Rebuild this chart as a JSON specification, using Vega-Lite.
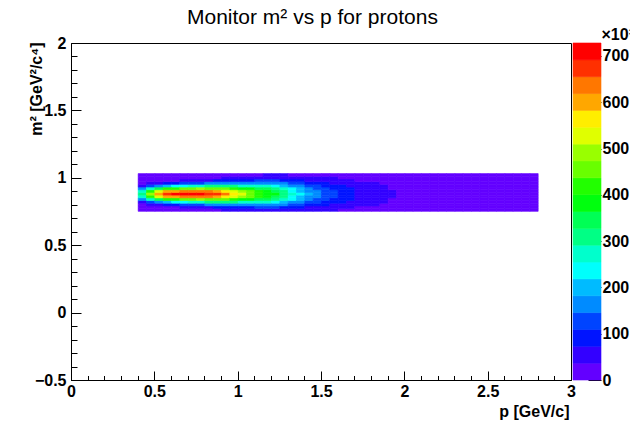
{
"$schema":"https://vega.github.io/schema/vega-lite/v6.json",
"background":"white",
"padding":{"left":27,"top":7,"right":0,"bottom":0},
"bounds":"flush",
"spacing":2,
"title":{"text":"Monitor m² vs p for protons","font":"Liberation Sans","fontSize":21,"fontWeight":"normal","color":"black","anchor":"start","frame":"group","dx":116,"offset":-2},
"config":{"font":"Liberation Sans","view":{"stroke":null},
"axis":{"grid":false,"domainColor":"black","tickColor":"black","labelColor":"black","titleColor":"black","labelFont":"Liberation Sans","labelFontSize":16,"labelFontWeight":"bold","titleFont":"Liberation Sans","titleFontSize":16,"titleFontWeight":"bold","tickWidth":1,"domainWidth":1,"labelOverlap":false}},
"hconcat":[
{"width":500,"height":337,
"view":{"stroke":"black","strokeWidth":1},
"data":{"values":[
{"p":0.425,"m":0.765,"n":5},{"p":0.425,"m":0.785,"n":8},{"p":0.425,"m":0.805,"n":23},{"p":0.425,"m":0.825,"n":67},{"p":0.425,"m":0.845,"n":154},{"p":0.425,"m":0.865,"n":256},{"p":0.425,"m":0.885,"n":304},{"p":0.425,"m":0.905,"n":256},{"p":0.425,"m":0.925,"n":154},{"p":0.425,"m":0.945,"n":67},{"p":0.425,"m":0.965,"n":23},{"p":0.425,"m":0.985,"n":8},{"p":0.425,"m":1.005,"n":5},{"p":0.425,"m":1.025,"n":4},
{"p":0.475,"m":0.765,"n":6},{"p":0.475,"m":0.785,"n":15},{"p":0.475,"m":0.805,"n":46},{"p":0.475,"m":0.825,"n":129},{"p":0.475,"m":0.845,"n":274},{"p":0.475,"m":0.865,"n":433},{"p":0.475,"m":0.885,"n":504},{"p":0.475,"m":0.905,"n":433},{"p":0.475,"m":0.925,"n":274},{"p":0.475,"m":0.945,"n":129},{"p":0.475,"m":0.965,"n":46},{"p":0.475,"m":0.985,"n":15},{"p":0.475,"m":1.005,"n":6},{"p":0.475,"m":1.025,"n":4},
{"p":0.525,"m":0.765,"n":8},{"p":0.525,"m":0.785,"n":23},{"p":0.525,"m":0.805,"n":70},{"p":0.525,"m":0.825,"n":179},{"p":0.525,"m":0.845,"n":355},{"p":0.525,"m":0.865,"n":535},{"p":0.525,"m":0.885,"n":614},{"p":0.525,"m":0.905,"n":535},{"p":0.525,"m":0.925,"n":355},{"p":0.525,"m":0.945,"n":179},{"p":0.525,"m":0.965,"n":70},{"p":0.525,"m":0.985,"n":23},{"p":0.525,"m":1.005,"n":8},{"p":0.525,"m":1.025,"n":5},
{"p":0.575,"m":0.765,"n":10},{"p":0.575,"m":0.785,"n":29},{"p":0.575,"m":0.805,"n":86},{"p":0.575,"m":0.825,"n":211},{"p":0.575,"m":0.845,"n":403},{"p":0.575,"m":0.865,"n":596},{"p":0.575,"m":0.885,"n":679},{"p":0.575,"m":0.905,"n":596},{"p":0.575,"m":0.925,"n":403},{"p":0.575,"m":0.945,"n":211},{"p":0.575,"m":0.965,"n":86},{"p":0.575,"m":0.985,"n":29},{"p":0.575,"m":1.005,"n":10},{"p":0.575,"m":1.025,"n":5},
{"p":0.625,"m":0.765,"n":12},{"p":0.625,"m":0.785,"n":34},{"p":0.625,"m":0.805,"n":97},{"p":0.625,"m":0.825,"n":228},{"p":0.625,"m":0.845,"n":422},{"p":0.625,"m":0.865,"n":613},{"p":0.625,"m":0.885,"n":694},{"p":0.625,"m":0.905,"n":613},{"p":0.625,"m":0.925,"n":422},{"p":0.625,"m":0.945,"n":228},{"p":0.625,"m":0.965,"n":97},{"p":0.625,"m":0.985,"n":34},{"p":0.625,"m":1.005,"n":12},{"p":0.625,"m":1.025,"n":6},
{"p":0.675,"m":0.765,"n":14},{"p":0.675,"m":0.785,"n":41},{"p":0.675,"m":0.805,"n":111},{"p":0.675,"m":0.825,"n":250},{"p":0.675,"m":0.845,"n":450},{"p":0.675,"m":0.865,"n":641},{"p":0.675,"m":0.885,"n":722},{"p":0.675,"m":0.905,"n":641},{"p":0.675,"m":0.925,"n":450},{"p":0.675,"m":0.945,"n":250},{"p":0.675,"m":0.965,"n":111},{"p":0.675,"m":0.985,"n":41},{"p":0.675,"m":1.005,"n":14},{"p":0.675,"m":1.025,"n":6},
{"p":0.725,"m":0.765,"n":16},{"p":0.725,"m":0.785,"n":46},{"p":0.725,"m":0.805,"n":122},{"p":0.725,"m":0.825,"n":264},{"p":0.725,"m":0.845,"n":463},{"p":0.725,"m":0.865,"n":649},{"p":0.725,"m":0.885,"n":726},{"p":0.725,"m":0.905,"n":649},{"p":0.725,"m":0.925,"n":463},{"p":0.725,"m":0.945,"n":264},{"p":0.725,"m":0.965,"n":122},{"p":0.725,"m":0.985,"n":46},{"p":0.725,"m":1.005,"n":16},{"p":0.725,"m":1.025,"n":7},
{"p":0.775,"m":0.765,"n":21},{"p":0.775,"m":0.785,"n":58},{"p":0.775,"m":0.805,"n":140},{"p":0.775,"m":0.825,"n":285},{"p":0.775,"m":0.845,"n":475},{"p":0.775,"m":0.865,"n":646},{"p":0.775,"m":0.885,"n":716},{"p":0.775,"m":0.905,"n":646},{"p":0.775,"m":0.925,"n":475},{"p":0.775,"m":0.945,"n":285},{"p":0.775,"m":0.965,"n":140},{"p":0.775,"m":0.985,"n":58},{"p":0.775,"m":1.005,"n":21},{"p":0.775,"m":1.025,"n":9},
{"p":0.825,"m":0.765,"n":27},{"p":0.825,"m":0.785,"n":68},{"p":0.825,"m":0.805,"n":155},{"p":0.825,"m":0.825,"n":296},{"p":0.825,"m":0.845,"n":473},{"p":0.825,"m":0.865,"n":626},{"p":0.825,"m":0.885,"n":688},{"p":0.825,"m":0.905,"n":626},{"p":0.825,"m":0.925,"n":473},{"p":0.825,"m":0.945,"n":296},{"p":0.825,"m":0.965,"n":155},{"p":0.825,"m":0.985,"n":68},{"p":0.825,"m":1.005,"n":27},{"p":0.825,"m":1.025,"n":11},
{"p":0.875,"m":0.765,"n":33},{"p":0.875,"m":0.785,"n":79},{"p":0.875,"m":0.805,"n":169},{"p":0.875,"m":0.825,"n":306},{"p":0.875,"m":0.845,"n":470},{"p":0.875,"m":0.865,"n":609},{"p":0.875,"m":0.885,"n":664},{"p":0.875,"m":0.905,"n":609},{"p":0.875,"m":0.925,"n":470},{"p":0.875,"m":0.945,"n":306},{"p":0.875,"m":0.965,"n":169},{"p":0.875,"m":0.985,"n":79},{"p":0.875,"m":1.005,"n":33},{"p":0.875,"m":1.025,"n":13},
{"p":0.925,"m":0.765,"n":39},{"p":0.925,"m":0.785,"n":87},{"p":0.925,"m":0.805,"n":175},{"p":0.925,"m":0.825,"n":303},{"p":0.925,"m":0.845,"n":451},{"p":0.925,"m":0.865,"n":572},{"p":0.925,"m":0.885,"n":619},{"p":0.925,"m":0.905,"n":572},{"p":0.925,"m":0.925,"n":451},{"p":0.925,"m":0.945,"n":303},{"p":0.925,"m":0.965,"n":175},{"p":0.925,"m":0.985,"n":87},{"p":0.925,"m":1.005,"n":39},{"p":0.925,"m":1.025,"n":16},
{"p":0.975,"m":0.765,"n":43},{"p":0.975,"m":0.785,"n":92},{"p":0.975,"m":0.805,"n":175},{"p":0.975,"m":0.825,"n":292},{"p":0.975,"m":0.845,"n":421},{"p":0.975,"m":0.865,"n":524},{"p":0.975,"m":0.885,"n":564},{"p":0.975,"m":0.905,"n":524},{"p":0.975,"m":0.925,"n":421},{"p":0.975,"m":0.945,"n":292},{"p":0.975,"m":0.965,"n":175},{"p":0.975,"m":0.985,"n":92},{"p":0.975,"m":1.005,"n":43},{"p":0.975,"m":1.025,"n":19},
{"p":1.025,"m":0.765,"n":47},{"p":1.025,"m":0.785,"n":96},{"p":1.025,"m":0.805,"n":175},{"p":1.025,"m":0.825,"n":280},{"p":1.025,"m":0.845,"n":393},{"p":1.025,"m":0.865,"n":482},{"p":1.025,"m":0.885,"n":516},{"p":1.025,"m":0.905,"n":482},{"p":1.025,"m":0.925,"n":393},{"p":1.025,"m":0.945,"n":280},{"p":1.025,"m":0.965,"n":175},{"p":1.025,"m":0.985,"n":96},{"p":1.025,"m":1.005,"n":47},{"p":1.025,"m":1.025,"n":22},
{"p":1.075,"m":0.765,"n":55},{"p":1.075,"m":0.785,"n":104},{"p":1.075,"m":0.805,"n":179},{"p":1.075,"m":0.825,"n":273},{"p":1.075,"m":0.845,"n":370},{"p":1.075,"m":0.865,"n":444},{"p":1.075,"m":0.885,"n":472},{"p":1.075,"m":0.905,"n":444},{"p":1.075,"m":0.925,"n":370},{"p":1.075,"m":0.945,"n":273},{"p":1.075,"m":0.965,"n":179},{"p":1.075,"m":0.985,"n":104},{"p":1.075,"m":1.005,"n":55},{"p":1.075,"m":1.025,"n":27},
{"p":1.125,"m":0.765,"n":62},{"p":1.125,"m":0.785,"n":111},{"p":1.125,"m":0.805,"n":181},{"p":1.125,"m":0.825,"n":265},{"p":1.125,"m":0.845,"n":348},{"p":1.125,"m":0.865,"n":411},{"p":1.125,"m":0.885,"n":434},{"p":1.125,"m":0.905,"n":411},{"p":1.125,"m":0.925,"n":348},{"p":1.125,"m":0.945,"n":265},{"p":1.125,"m":0.965,"n":181},{"p":1.125,"m":0.985,"n":111},{"p":1.125,"m":1.005,"n":62},{"p":1.125,"m":1.025,"n":32},
{"p":1.175,"m":0.765,"n":69},{"p":1.175,"m":0.785,"n":116},{"p":1.175,"m":0.805,"n":181},{"p":1.175,"m":0.825,"n":256},{"p":1.175,"m":0.845,"n":328},{"p":1.175,"m":0.865,"n":381},{"p":1.175,"m":0.885,"n":400},{"p":1.175,"m":0.905,"n":381},{"p":1.175,"m":0.925,"n":328},{"p":1.175,"m":0.945,"n":256},{"p":1.175,"m":0.965,"n":181},{"p":1.175,"m":0.985,"n":116},{"p":1.175,"m":1.005,"n":69},{"p":1.175,"m":1.025,"n":38},
{"p":1.225,"m":0.765,"n":71},{"p":1.225,"m":0.785,"n":117},{"p":1.225,"m":0.805,"n":177},{"p":1.225,"m":0.825,"n":244},{"p":1.225,"m":0.845,"n":309},{"p":1.225,"m":0.865,"n":355},{"p":1.225,"m":0.885,"n":372},{"p":1.225,"m":0.905,"n":355},{"p":1.225,"m":0.925,"n":309},{"p":1.225,"m":0.945,"n":244},{"p":1.225,"m":0.965,"n":177},{"p":1.225,"m":0.985,"n":117},{"p":1.225,"m":1.005,"n":71},{"p":1.225,"m":1.025,"n":40},
{"p":1.275,"m":0.765,"n":65},{"p":1.275,"m":0.785,"n":105},{"p":1.275,"m":0.805,"n":157},{"p":1.275,"m":0.825,"n":214},{"p":1.275,"m":0.845,"n":269},{"p":1.275,"m":0.865,"n":308},{"p":1.275,"m":0.885,"n":322},{"p":1.275,"m":0.905,"n":308},{"p":1.275,"m":0.925,"n":269},{"p":1.275,"m":0.945,"n":214},{"p":1.275,"m":0.965,"n":157},{"p":1.275,"m":0.985,"n":105},{"p":1.275,"m":1.005,"n":65},{"p":1.275,"m":1.025,"n":38},
{"p":1.325,"m":0.765,"n":58},{"p":1.325,"m":0.785,"n":91},{"p":1.325,"m":0.805,"n":133},{"p":1.325,"m":0.825,"n":179},{"p":1.325,"m":0.845,"n":221},{"p":1.325,"m":0.865,"n":251},{"p":1.325,"m":0.885,"n":262},{"p":1.325,"m":0.905,"n":251},{"p":1.325,"m":0.925,"n":221},{"p":1.325,"m":0.945,"n":179},{"p":1.325,"m":0.965,"n":133},{"p":1.325,"m":0.985,"n":91},{"p":1.325,"m":1.005,"n":58},{"p":1.325,"m":1.025,"n":35},
{"p":1.375,"m":0.765,"n":53},{"p":1.375,"m":0.785,"n":81},{"p":1.375,"m":0.805,"n":116},{"p":1.375,"m":0.825,"n":153},{"p":1.375,"m":0.845,"n":187},{"p":1.375,"m":0.865,"n":210},{"p":1.375,"m":0.885,"n":219},{"p":1.375,"m":0.905,"n":210},{"p":1.375,"m":0.925,"n":187},{"p":1.375,"m":0.945,"n":153},{"p":1.375,"m":0.965,"n":116},{"p":1.375,"m":0.985,"n":81},{"p":1.375,"m":1.005,"n":53},{"p":1.375,"m":1.025,"n":33},
{"p":1.425,"m":0.765,"n":47},{"p":1.425,"m":0.785,"n":71},{"p":1.425,"m":0.805,"n":99},{"p":1.425,"m":0.825,"n":130},{"p":1.425,"m":0.845,"n":158},{"p":1.425,"m":0.865,"n":177},{"p":1.425,"m":0.885,"n":184},{"p":1.425,"m":0.905,"n":177},{"p":1.425,"m":0.925,"n":158},{"p":1.425,"m":0.945,"n":130},{"p":1.425,"m":0.965,"n":99},{"p":1.425,"m":0.985,"n":71},{"p":1.425,"m":1.005,"n":47},{"p":1.425,"m":1.025,"n":30},
{"p":1.475,"m":0.765,"n":43},{"p":1.475,"m":0.785,"n":63},{"p":1.475,"m":0.805,"n":87},{"p":1.475,"m":0.825,"n":112},{"p":1.475,"m":0.845,"n":135},{"p":1.475,"m":0.865,"n":150},{"p":1.475,"m":0.885,"n":156},{"p":1.475,"m":0.905,"n":150},{"p":1.475,"m":0.925,"n":135},{"p":1.475,"m":0.945,"n":112},{"p":1.475,"m":0.965,"n":87},{"p":1.475,"m":0.985,"n":63},{"p":1.475,"m":1.005,"n":43},{"p":1.475,"m":1.025,"n":28},
{"p":1.525,"m":0.765,"n":39},{"p":1.525,"m":0.785,"n":57},{"p":1.525,"m":0.805,"n":78},{"p":1.525,"m":0.825,"n":99},{"p":1.525,"m":0.845,"n":118},{"p":1.525,"m":0.865,"n":131},{"p":1.525,"m":0.885,"n":136},{"p":1.525,"m":0.905,"n":131},{"p":1.525,"m":0.925,"n":118},{"p":1.525,"m":0.945,"n":99},{"p":1.525,"m":0.965,"n":78},{"p":1.525,"m":0.985,"n":57},{"p":1.525,"m":1.005,"n":39},{"p":1.525,"m":1.025,"n":26},
{"p":1.575,"m":0.765,"n":37},{"p":1.575,"m":0.785,"n":52},{"p":1.575,"m":0.805,"n":70},{"p":1.575,"m":0.825,"n":87},{"p":1.575,"m":0.845,"n":103},{"p":1.575,"m":0.865,"n":114},{"p":1.575,"m":0.885,"n":118},{"p":1.575,"m":0.905,"n":114},{"p":1.575,"m":0.925,"n":103},{"p":1.575,"m":0.945,"n":87},{"p":1.575,"m":0.965,"n":70},{"p":1.575,"m":0.985,"n":52},{"p":1.575,"m":1.005,"n":37},{"p":1.575,"m":1.025,"n":25},
{"p":1.625,"m":0.765,"n":33},{"p":1.625,"m":0.785,"n":46},{"p":1.625,"m":0.805,"n":61},{"p":1.625,"m":0.825,"n":76},{"p":1.625,"m":0.845,"n":90},{"p":1.625,"m":0.865,"n":99},{"p":1.625,"m":0.885,"n":102},{"p":1.625,"m":0.905,"n":99},{"p":1.625,"m":0.925,"n":90},{"p":1.625,"m":0.945,"n":76},{"p":1.625,"m":0.965,"n":61},{"p":1.625,"m":0.985,"n":46},{"p":1.625,"m":1.005,"n":33},{"p":1.625,"m":1.025,"n":23},
{"p":1.675,"m":0.765,"n":31},{"p":1.675,"m":0.785,"n":42},{"p":1.675,"m":0.805,"n":54},{"p":1.675,"m":0.825,"n":67},{"p":1.675,"m":0.845,"n":78},{"p":1.675,"m":0.865,"n":85},{"p":1.675,"m":0.885,"n":88},{"p":1.675,"m":0.905,"n":85},{"p":1.675,"m":0.925,"n":78},{"p":1.675,"m":0.945,"n":67},{"p":1.675,"m":0.965,"n":54},{"p":1.675,"m":0.985,"n":42},{"p":1.675,"m":1.005,"n":31},{"p":1.675,"m":1.025,"n":21},
{"p":1.725,"m":0.765,"n":26},{"p":1.725,"m":0.785,"n":35},{"p":1.725,"m":0.805,"n":45},{"p":1.725,"m":0.825,"n":55},{"p":1.725,"m":0.845,"n":64},{"p":1.725,"m":0.865,"n":70},{"p":1.725,"m":0.885,"n":72},{"p":1.725,"m":0.905,"n":70},{"p":1.725,"m":0.925,"n":64},{"p":1.725,"m":0.945,"n":55},{"p":1.725,"m":0.965,"n":45},{"p":1.725,"m":0.985,"n":35},{"p":1.725,"m":1.005,"n":26},{"p":1.725,"m":1.025,"n":19},
{"p":1.775,"m":0.765,"n":25},{"p":1.775,"m":0.785,"n":33},{"p":1.775,"m":0.805,"n":41},{"p":1.775,"m":0.825,"n":50},{"p":1.775,"m":0.845,"n":57},{"p":1.775,"m":0.865,"n":62},{"p":1.775,"m":0.885,"n":64},{"p":1.775,"m":0.905,"n":62},{"p":1.775,"m":0.925,"n":57},{"p":1.775,"m":0.945,"n":50},{"p":1.775,"m":0.965,"n":41},{"p":1.775,"m":0.985,"n":33},{"p":1.775,"m":1.005,"n":25},{"p":1.775,"m":1.025,"n":18},
{"p":1.825,"m":0.765,"n":22},{"p":1.825,"m":0.785,"n":29},{"p":1.825,"m":0.805,"n":37},{"p":1.825,"m":0.825,"n":44},{"p":1.825,"m":0.845,"n":50},{"p":1.825,"m":0.865,"n":55},{"p":1.825,"m":0.885,"n":56},{"p":1.825,"m":0.905,"n":55},{"p":1.825,"m":0.925,"n":50},{"p":1.825,"m":0.945,"n":44},{"p":1.825,"m":0.965,"n":37},{"p":1.825,"m":0.985,"n":29},{"p":1.825,"m":1.005,"n":22},{"p":1.825,"m":1.025,"n":17},
{"p":1.875,"m":0.765,"n":20},{"p":1.875,"m":0.785,"n":26},{"p":1.875,"m":0.805,"n":32},{"p":1.875,"m":0.825,"n":38},{"p":1.875,"m":0.845,"n":43},{"p":1.875,"m":0.865,"n":47},{"p":1.875,"m":0.885,"n":48},{"p":1.875,"m":0.905,"n":47},{"p":1.875,"m":0.925,"n":43},{"p":1.875,"m":0.945,"n":38},{"p":1.875,"m":0.965,"n":32},{"p":1.875,"m":0.985,"n":26},{"p":1.875,"m":1.005,"n":20},{"p":1.875,"m":1.025,"n":15},
{"p":1.925,"m":0.765,"n":18},{"p":1.925,"m":0.785,"n":22},{"p":1.925,"m":0.805,"n":27},{"p":1.925,"m":0.825,"n":32},{"p":1.925,"m":0.845,"n":36},{"p":1.925,"m":0.865,"n":39},{"p":1.925,"m":0.885,"n":40},{"p":1.925,"m":0.905,"n":39},{"p":1.925,"m":0.925,"n":36},{"p":1.925,"m":0.945,"n":32},{"p":1.925,"m":0.965,"n":27},{"p":1.925,"m":0.985,"n":22},{"p":1.925,"m":1.005,"n":18},{"p":1.925,"m":1.025,"n":14},
{"p":1.975,"m":0.765,"n":16},{"p":1.975,"m":0.785,"n":20},{"p":1.975,"m":0.805,"n":24},{"p":1.975,"m":0.825,"n":28},{"p":1.975,"m":0.845,"n":31},{"p":1.975,"m":0.865,"n":33},{"p":1.975,"m":0.885,"n":34},{"p":1.975,"m":0.905,"n":33},{"p":1.975,"m":0.925,"n":31},{"p":1.975,"m":0.945,"n":28},{"p":1.975,"m":0.965,"n":24},{"p":1.975,"m":0.985,"n":20},{"p":1.975,"m":1.005,"n":16},{"p":1.975,"m":1.025,"n":12},
{"p":2.025,"m":0.765,"n":15},{"p":2.025,"m":0.785,"n":18},{"p":2.025,"m":0.805,"n":22},{"p":2.025,"m":0.825,"n":25},{"p":2.025,"m":0.845,"n":28},{"p":2.025,"m":0.865,"n":30},{"p":2.025,"m":0.885,"n":31},{"p":2.025,"m":0.905,"n":30},{"p":2.025,"m":0.925,"n":28},{"p":2.025,"m":0.945,"n":25},{"p":2.025,"m":0.965,"n":22},{"p":2.025,"m":0.985,"n":18},{"p":2.025,"m":1.005,"n":15},{"p":2.025,"m":1.025,"n":12},
{"p":2.075,"m":0.765,"n":14},{"p":2.075,"m":0.785,"n":17},{"p":2.075,"m":0.805,"n":20},{"p":2.075,"m":0.825,"n":23},{"p":2.075,"m":0.845,"n":25},{"p":2.075,"m":0.865,"n":27},{"p":2.075,"m":0.885,"n":28},{"p":2.075,"m":0.905,"n":27},{"p":2.075,"m":0.925,"n":25},{"p":2.075,"m":0.945,"n":23},{"p":2.075,"m":0.965,"n":20},{"p":2.075,"m":0.985,"n":17},{"p":2.075,"m":1.005,"n":14},{"p":2.075,"m":1.025,"n":11},
{"p":2.125,"m":0.765,"n":13},{"p":2.125,"m":0.785,"n":16},{"p":2.125,"m":0.805,"n":19},{"p":2.125,"m":0.825,"n":21},{"p":2.125,"m":0.845,"n":24},{"p":2.125,"m":0.865,"n":25},{"p":2.125,"m":0.885,"n":26},{"p":2.125,"m":0.905,"n":25},{"p":2.125,"m":0.925,"n":24},{"p":2.125,"m":0.945,"n":21},{"p":2.125,"m":0.965,"n":19},{"p":2.125,"m":0.985,"n":16},{"p":2.125,"m":1.005,"n":13},{"p":2.125,"m":1.025,"n":11},
{"p":2.175,"m":0.765,"n":12},{"p":2.175,"m":0.785,"n":15},{"p":2.175,"m":0.805,"n":17},{"p":2.175,"m":0.825,"n":20},{"p":2.175,"m":0.845,"n":22},{"p":2.175,"m":0.865,"n":23},{"p":2.175,"m":0.885,"n":24},{"p":2.175,"m":0.905,"n":23},{"p":2.175,"m":0.925,"n":22},{"p":2.175,"m":0.945,"n":20},{"p":2.175,"m":0.965,"n":17},{"p":2.175,"m":0.985,"n":15},{"p":2.175,"m":1.005,"n":12},{"p":2.175,"m":1.025,"n":10},
{"p":2.225,"m":0.765,"n":12},{"p":2.225,"m":0.785,"n":14},{"p":2.225,"m":0.805,"n":16},{"p":2.225,"m":0.825,"n":18},{"p":2.225,"m":0.845,"n":20},{"p":2.225,"m":0.865,"n":21},{"p":2.225,"m":0.885,"n":22},{"p":2.225,"m":0.905,"n":21},{"p":2.225,"m":0.925,"n":20},{"p":2.225,"m":0.945,"n":18},{"p":2.225,"m":0.965,"n":16},{"p":2.225,"m":0.985,"n":14},{"p":2.225,"m":1.005,"n":12},{"p":2.225,"m":1.025,"n":10},
{"p":2.275,"m":0.765,"n":11},{"p":2.275,"m":0.785,"n":13},{"p":2.275,"m":0.805,"n":15},{"p":2.275,"m":0.825,"n":17},{"p":2.275,"m":0.845,"n":19},{"p":2.275,"m":0.865,"n":20},{"p":2.275,"m":0.885,"n":21},{"p":2.275,"m":0.905,"n":20},{"p":2.275,"m":0.925,"n":19},{"p":2.275,"m":0.945,"n":17},{"p":2.275,"m":0.965,"n":15},{"p":2.275,"m":0.985,"n":13},{"p":2.275,"m":1.005,"n":11},{"p":2.275,"m":1.025,"n":9},
{"p":2.325,"m":0.765,"n":10},{"p":2.325,"m":0.785,"n":12},{"p":2.325,"m":0.805,"n":14},{"p":2.325,"m":0.825,"n":16},{"p":2.325,"m":0.845,"n":18},{"p":2.325,"m":0.865,"n":19},{"p":2.325,"m":0.885,"n":20},{"p":2.325,"m":0.905,"n":19},{"p":2.325,"m":0.925,"n":18},{"p":2.325,"m":0.945,"n":16},{"p":2.325,"m":0.965,"n":14},{"p":2.325,"m":0.985,"n":12},{"p":2.325,"m":1.005,"n":10},{"p":2.325,"m":1.025,"n":9},
{"p":2.375,"m":0.765,"n":10},{"p":2.375,"m":0.785,"n":12},{"p":2.375,"m":0.805,"n":13},{"p":2.375,"m":0.825,"n":15},{"p":2.375,"m":0.845,"n":17},{"p":2.375,"m":0.865,"n":18},{"p":2.375,"m":0.885,"n":19},{"p":2.375,"m":0.905,"n":18},{"p":2.375,"m":0.925,"n":17},{"p":2.375,"m":0.945,"n":15},{"p":2.375,"m":0.965,"n":13},{"p":2.375,"m":0.985,"n":12},{"p":2.375,"m":1.005,"n":10},{"p":2.375,"m":1.025,"n":8},
{"p":2.425,"m":0.765,"n":9},{"p":2.425,"m":0.785,"n":11},{"p":2.425,"m":0.805,"n":13},{"p":2.425,"m":0.825,"n":14},{"p":2.425,"m":0.845,"n":16},{"p":2.425,"m":0.865,"n":17},{"p":2.425,"m":0.885,"n":18},{"p":2.425,"m":0.905,"n":17},{"p":2.425,"m":0.925,"n":16},{"p":2.425,"m":0.945,"n":14},{"p":2.425,"m":0.965,"n":13},{"p":2.425,"m":0.985,"n":11},{"p":2.425,"m":1.005,"n":9},{"p":2.425,"m":1.025,"n":8},
{"p":2.475,"m":0.765,"n":9},{"p":2.475,"m":0.785,"n":11},{"p":2.475,"m":0.805,"n":12},{"p":2.475,"m":0.825,"n":14},{"p":2.475,"m":0.845,"n":15},{"p":2.475,"m":0.865,"n":16},{"p":2.475,"m":0.885,"n":17},{"p":2.475,"m":0.905,"n":16},{"p":2.475,"m":0.925,"n":15},{"p":2.475,"m":0.945,"n":14},{"p":2.475,"m":0.965,"n":12},{"p":2.475,"m":0.985,"n":11},{"p":2.475,"m":1.005,"n":9},{"p":2.475,"m":1.025,"n":8},
{"p":2.525,"m":0.765,"n":9},{"p":2.525,"m":0.785,"n":10},{"p":2.525,"m":0.805,"n":11},{"p":2.525,"m":0.825,"n":13},{"p":2.525,"m":0.845,"n":14},{"p":2.525,"m":0.865,"n":15},{"p":2.525,"m":0.885,"n":16},{"p":2.525,"m":0.905,"n":15},{"p":2.525,"m":0.925,"n":14},{"p":2.525,"m":0.945,"n":13},{"p":2.525,"m":0.965,"n":11},{"p":2.525,"m":0.985,"n":10},{"p":2.525,"m":1.005,"n":9},{"p":2.525,"m":1.025,"n":7},
{"p":2.575,"m":0.765,"n":8},{"p":2.575,"m":0.785,"n":9},{"p":2.575,"m":0.805,"n":11},{"p":2.575,"m":0.825,"n":12},{"p":2.575,"m":0.845,"n":13},{"p":2.575,"m":0.865,"n":14},{"p":2.575,"m":0.885,"n":15},{"p":2.575,"m":0.905,"n":14},{"p":2.575,"m":0.925,"n":13},{"p":2.575,"m":0.945,"n":12},{"p":2.575,"m":0.965,"n":11},{"p":2.575,"m":0.985,"n":9},{"p":2.575,"m":1.005,"n":8},{"p":2.575,"m":1.025,"n":7},
{"p":2.625,"m":0.765,"n":8},{"p":2.625,"m":0.785,"n":9},{"p":2.625,"m":0.805,"n":10},{"p":2.625,"m":0.825,"n":11},{"p":2.625,"m":0.845,"n":12},{"p":2.625,"m":0.865,"n":13},{"p":2.625,"m":0.885,"n":14},{"p":2.625,"m":0.905,"n":13},{"p":2.625,"m":0.925,"n":12},{"p":2.625,"m":0.945,"n":11},{"p":2.625,"m":0.965,"n":10},{"p":2.625,"m":0.985,"n":9},{"p":2.625,"m":1.005,"n":8},{"p":2.625,"m":1.025,"n":7},
{"p":2.675,"m":0.765,"n":8},{"p":2.675,"m":0.785,"n":9},{"p":2.675,"m":0.805,"n":10},{"p":2.675,"m":0.825,"n":11},{"p":2.675,"m":0.845,"n":12},{"p":2.675,"m":0.865,"n":13},{"p":2.675,"m":0.885,"n":13},{"p":2.675,"m":0.905,"n":13},{"p":2.675,"m":0.925,"n":12},{"p":2.675,"m":0.945,"n":11},{"p":2.675,"m":0.965,"n":10},{"p":2.675,"m":0.985,"n":9},{"p":2.675,"m":1.005,"n":8},{"p":2.675,"m":1.025,"n":6},
{"p":2.725,"m":0.765,"n":7},{"p":2.725,"m":0.785,"n":8},{"p":2.725,"m":0.805,"n":9},{"p":2.725,"m":0.825,"n":10},{"p":2.725,"m":0.845,"n":11},{"p":2.725,"m":0.865,"n":12},{"p":2.725,"m":0.885,"n":12},{"p":2.725,"m":0.905,"n":12},{"p":2.725,"m":0.925,"n":11},{"p":2.725,"m":0.945,"n":10},{"p":2.725,"m":0.965,"n":9},{"p":2.725,"m":0.985,"n":8},{"p":2.725,"m":1.005,"n":7},{"p":2.725,"m":1.025,"n":6},
{"p":2.775,"m":0.765,"n":6},{"p":2.775,"m":0.785,"n":7},{"p":2.775,"m":0.805,"n":8},{"p":2.775,"m":0.825,"n":9},{"p":2.775,"m":0.845,"n":10},{"p":2.775,"m":0.865,"n":11},{"p":2.775,"m":0.885,"n":11},{"p":2.775,"m":0.905,"n":11},{"p":2.775,"m":0.925,"n":10},{"p":2.775,"m":0.945,"n":9},{"p":2.775,"m":0.965,"n":8},{"p":2.775,"m":0.985,"n":7},{"p":2.775,"m":1.005,"n":6},{"p":2.775,"m":1.025,"n":5}
]},
"mark":{"type":"rect","strokeWidth":0.6},
"encoding":{
"x":{"field":"p","type":"quantitative","bin":{"step":0.05,"extent":[0.4,2.8],"anchor":0.4,"nice":false},
"scale":{"domain":[0,3],"nice":false,"zero":false},
"axis":{"orient":"bottom","title":"p [GeV/c]",
"values":[0,0.1,0.2,0.3,0.4,0.5,0.6,0.7,0.8,0.9,1,1.1,1.2,1.3,1.4,1.5,1.6,1.7,1.8,1.9,2,2.1,2.2,2.3,2.4,2.5,2.6,2.7,2.8,2.9,3],
"labelExpr":"abs(datum.value*2-round(datum.value*2))<0.001 ? format(datum.value,'~g') : ''",
"tickSize":{"condition":{"test":"abs(datum.value*2-round(datum.value*2))<0.001","value":-9},"value":-4.5},
"labelPadding":12,"labelFlush":false,
"titleX":498,"titleY":36,"titleAlign":"right","titleAnchor":"end","titleBaseline":"alphabetic"}},
"y":{"field":"m","type":"quantitative","bin":{"step":0.02,"extent":[0.755,1.035],"anchor":0.755,"nice":false},
"scale":{"domain":[-0.5,2],"nice":false,"zero":false},
"axis":{"orient":"left","title":"m² [GeV²/c⁴]",
"values":[-0.5,-0.4,-0.3,-0.2,-0.1,0,0.1,0.2,0.3,0.4,0.5,0.6,0.7,0.8,0.9,1,1.1,1.2,1.3,1.4,1.5,1.6,1.7,1.8,1.9,2],
"labelExpr":"abs(datum.value*2-round(datum.value*2))<0.001 ? format(datum.value,'~g') : ''",
"tickSize":{"condition":{"test":"abs(datum.value*2-round(datum.value*2))<0.001","value":-10},"value":-6},
"labelPadding":15,"labelFlush":false,
"titleX":-30,"titleY":-1,"titleAlign":"right","titleAnchor":"end","titleBaseline":"alphabetic","titleAngle":-90}},
"color":{"aggregate":"sum","field":"n","type":"quantitative",
"scale":{"type":"quantize","domain":[0,728],"nice":false,"zero":false,"range":["#6300ff","#3300ff","#0014ff","#0044ff","#008bff","#00bbff","#00fffc","#00ffcc","#00ff85","#00ff55","#00ff0e","#22ff00","#69ff00","#99ff00","#e0ff00","#ffee00","#ffa700","#ff7700","#ff3000","#ff0000"]},"legend":null},
"stroke":{"aggregate":"sum","field":"n","type":"quantitative",
"scale":{"type":"quantize","domain":[0,728],"nice":false,"zero":false,"range":["#6300ff","#3300ff","#0014ff","#0044ff","#008bff","#00bbff","#00fffc","#00ffcc","#00ff85","#00ff55","#00ff0e","#22ff00","#69ff00","#99ff00","#e0ff00","#ffee00","#ffa700","#ff7700","#ff3000","#ff0000"]},"legend":null}
}},
{"width":28,"height":337,
"data":{"values":[
{"lo":0,"hi":36.4,"mid":18.2},{"lo":36.4,"hi":72.8,"mid":54.6},{"lo":72.8,"hi":109.2,"mid":91},{"lo":109.2,"hi":145.6,"mid":127.4},{"lo":145.6,"hi":182,"mid":163.8},
{"lo":182,"hi":218.4,"mid":200.2},{"lo":218.4,"hi":254.8,"mid":236.6},{"lo":254.8,"hi":291.2,"mid":273},{"lo":291.2,"hi":327.6,"mid":309.4},{"lo":327.6,"hi":364,"mid":345.8},
{"lo":364,"hi":400.4,"mid":382.2},{"lo":400.4,"hi":436.8,"mid":418.6},{"lo":436.8,"hi":473.2,"mid":455},{"lo":473.2,"hi":509.6,"mid":491.4},{"lo":509.6,"hi":546,"mid":527.8},
{"lo":546,"hi":582.4,"mid":564.2},{"lo":582.4,"hi":618.8,"mid":600.6},{"lo":618.8,"hi":655.2,"mid":637},{"lo":655.2,"hi":691.6,"mid":673.4},{"lo":691.6,"hi":728,"mid":709.8}
]},
"mark":{"type":"rect","strokeWidth":0.6},
"encoding":{
"y":{"field":"lo","type":"quantitative","scale":{"domain":[0,728],"nice":false,"zero":false},
"axis":{"orient":"right","title":"×10³","values":[0,100,200,300,400,500,600,700],"format":"d",
"domain":false,"tickSize":-13,"labelPadding":14,"labelFlush":false,
"titleX":0,"titleY":-4,"titleAngle":0,"titleAlign":"left","titleBaseline":"alphabetic","titleAnchor":"end"}},
"y2":{"field":"hi"},
"color":{"field":"mid","type":"quantitative",
"scale":{"type":"quantize","domain":[0,728],"nice":false,"zero":false,"range":["#6300ff","#3300ff","#0014ff","#0044ff","#008bff","#00bbff","#00fffc","#00ffcc","#00ff85","#00ff55","#00ff0e","#22ff00","#69ff00","#99ff00","#e0ff00","#ffee00","#ffa700","#ff7700","#ff3000","#ff0000"]},"legend":null},
"stroke":{"field":"mid","type":"quantitative",
"scale":{"type":"quantize","domain":[0,728],"nice":false,"zero":false,"range":["#6300ff","#3300ff","#0014ff","#0044ff","#008bff","#00bbff","#00fffc","#00ffcc","#00ff85","#00ff55","#00ff0e","#22ff00","#69ff00","#99ff00","#e0ff00","#ffee00","#ffa700","#ff7700","#ff3000","#ff0000"]},"legend":null}
}}
]
}
